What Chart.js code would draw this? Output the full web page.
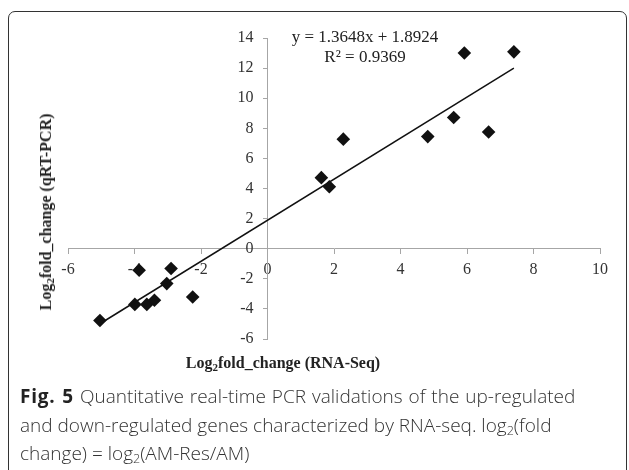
<!DOCTYPE html>
<html>
<head>
<meta charset="utf-8">
<script src="https://cdn.jsdelivr.net/npm/chart.js@4.4.0/dist/chart.umd.min.js"></script>
<style>
  html, body { margin: 0; padding: 0; background: #fff; }
  body { width: 629px; height: 470px; position: relative; overflow: hidden; }
  #frame { position: absolute; left: 8px; top: 11px; width: 617px; height: 500px;
           border: 1.5px solid #333; border-radius: 7px; }
  #wrap { position: absolute; left: 0; top: 0; width: 629px; height: 470px; }
  .serif { font-family: "Liberation Serif", "Times New Roman", serif; color: #222; position: absolute; white-space: nowrap; }
  #eq { left: 265px; width: 200px; top: 27px; text-align: center; font-size: 17px; line-height: 20px; }
  #ytitle { font-weight: bold; font-size: 16px; left: 46px; top: 212px; transform: translate(-50%, -50%) rotate(-90deg); }
  #xtitle { font-weight: bold; font-size: 16px; left: 283px; top: 363px; transform: translate(-50%, -50%); }
  .serif sub { font-size: 11px; vertical-align: -3px; line-height: 0; }
  #caption { position: absolute; left: 20px; top: 382px; font-family: "Open Sans", sans-serif; font-size: 19px;
             line-height: 28.5px; color: #333; font-weight: 300; white-space: nowrap; }
  #caption b { font-weight: 700; color: #222; letter-spacing: 0.8px; }
  #caption .l1 { word-spacing: 1px; }
  #caption sub { font-size: 12.5px; vertical-align: -3px; line-height: 0; }
</style>
</head>
<body>
<div id="frame"></div>
<div id="wrap"><canvas id="myChart" width="629" height="470"></canvas></div>
<div id="eq" class="serif">y = 1.3648x + 1.8924<br>R² = 0.9369</div>
<div id="ytitle" class="serif">Log<sub>2</sub>fold_change (qRT-PCR)</div>
<div id="xtitle" class="serif">Log<sub>2</sub>fold_change (RNA-Seq)</div>
<div id="caption"><span class="l1"><b>Fig. 5</b> Quantitative real-time PCR validations of the up-regulated</span><br>and down-regulated genes characterized by RNA-seq. log<sub>2</sub>(fold<br>change) = log<sub>2</sub>(AM-Res/AM)</div>
<script>
// log2 fold change
const rnaSeq = [-5.04, -3.99, -3.63, -3.40, -3.03, -3.86, -2.90, -2.25, 1.62, 1.86, 2.28, 4.82, 5.60, 5.92, 6.65, 7.41];
const qPCR   = [-4.77, -3.70, -3.70, -3.43, -2.32, -1.43, -1.32, -3.21, 4.72, 4.12, 7.28, 7.45, 8.72, 13.00, 7.75, 13.08];

// trendline from the printed equation
const slope = 1.3648;
const intercept = 1.8924;

const xTicks = [-6, -4, -2, 0, 2, 4, 6, 8, 10];
const yTicks = [-6, -4, -2, 0, 2, 4, 6, 8, 10, 12, 14];

const points = rnaSeq.map((x, i) => ({ x: x, y: qPCR[i] }));
const xMin = Math.min(...rnaSeq);
const xMax = Math.max(...rnaSeq);
const trend = [
    { x: xMin, y: slope * xMin + intercept },
    { x: xMax, y: slope * xMax + intercept }
];

const tickFont = { family: "'Liberation Serif', 'Times New Roman', serif", size: 16 };

// center y axis ignores ticks.padding, so push its labels left a bit
const yLabelGap = {
    id: 'yLabelGap',
    beforeDraw(chart) {
        const s = chart.scales.y;
        const items = s.getLabelItems(chart.chartArea);
        if (items._shifted) return;
        items.forEach(it => { it.options.translation[0] -= 14; });
        items._shifted = true;
    }
};

const data = {
    datasets: [{
        type: 'line',
        data: trend,
        borderColor: '#111',
        borderWidth: 1.5,
        pointRadius: 0,
        fill: false
    }, {
        type: 'scatter',
        data: points,
        pointStyle: 'rectRot',
        pointRadius: 6.8,
        backgroundColor: '#111',
        borderColor: '#111',
        borderWidth: 0
    }]
};

const config = {
    type: 'scatter',
    data: data,
    plugins: [yLabelGap],
    options: {
        responsive: false,
        animation: false,
        layout: { padding: { left: 68, top: 38, right: 29, bottom: 131 } },
        plugins: { legend: { display: false }, tooltip: { enabled: false } },
        scales: {
            x: {
                type: 'linear',
                position: { y: 0 },
                min: -6, max: 10,
                afterBuildTicks: (s) => { s.ticks = xTicks.map(v => ({ value: v })); },
                afterFit: (s) => { s.height = 0; },
                grid: { drawOnChartArea: false, drawTicks: true, tickLength: 5, color: '#a6a6a6' },
                border: { color: '#a6a6a6', width: 1 },
                ticks: { font: tickFont, color: '#333', padding: 6, maxRotation: 0, autoSkip: false }
            },
            y: {
                type: 'linear',
                position: { x: 0 },
                min: -6, max: 14,
                afterBuildTicks: (s) => { s.ticks = yTicks.map(v => ({ value: v })); },
                afterFit: (s) => { s.width = 0; },
                grid: { drawOnChartArea: false, drawTicks: true, tickLength: 4, color: '#a6a6a6' },
                border: { color: '#a6a6a6', width: 1 },
                ticks: { font: tickFont, color: '#333', padding: 10, autoSkip: false }
            }
        }
    }
};

const myChart = new Chart(document.getElementById('myChart'), config);
</script>
</body>
</html>
